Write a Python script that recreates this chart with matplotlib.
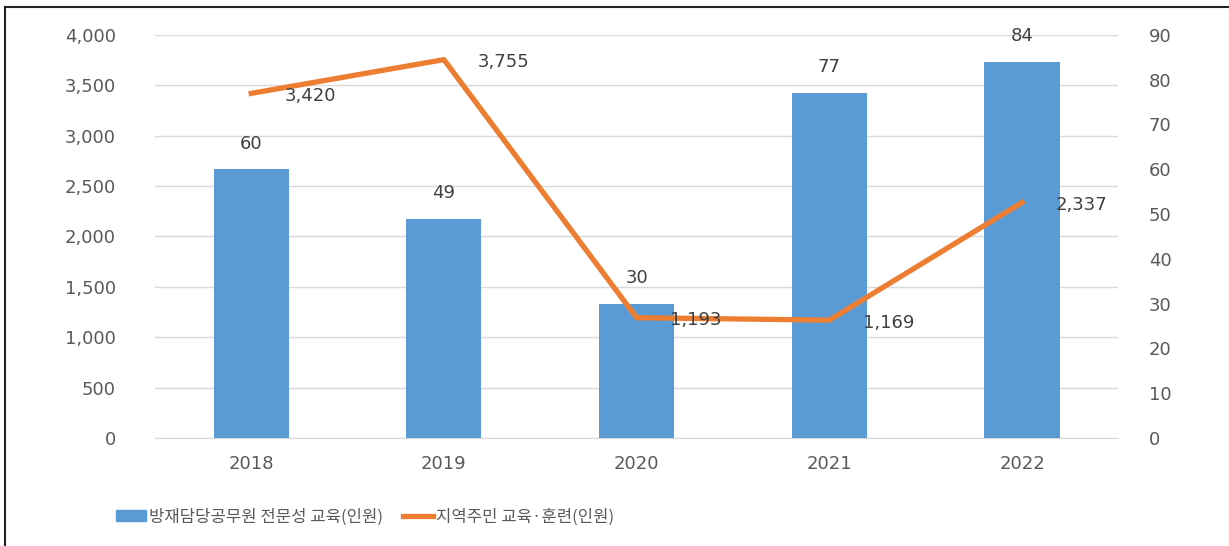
import matplotlib.pyplot as plt
from matplotlib.lines import Line2D

plt.rcParams['font.family'] = ['DejaVu Sans', 'Noto Sans CJK KR']

years = ['2018', '2019', '2020', '2021', '2022']
officials = [60, 49, 30, 77, 84]            # 방재담당공무원 전문성 교육 (right axis)
residents = [3420, 3755, 1193, 1169, 2337]  # 지역주민 교육·훈련 (left axis)

bar_label = '방재담당공무원 전문성 교육(인원)'
line_label = '지역주민 교육·훈련(인원)'

blue = '#5B9BD5'
orange = '#ED7D31'
grey = '#595959'

fig = plt.figure(figsize=(12.29, 5.46), dpi=100)
ax = fig.add_axes([0.126, 0.198, 0.784, 0.738])

# base axis: left scale + gridlines
ax.set_ylim(0, 4000)
ax.set_yticks(range(0, 4001, 500))
ax.set_yticklabels([f'{v:,}' for v in range(0, 4001, 500)])
ax.grid(axis='y', color='#D9D9D9', linewidth=1)
ax.set_axisbelow(True)
x = list(range(len(years)))
ax.set_xlim(-0.5, len(years) - 0.5)
ax.set_xticks(x)
ax.set_xticklabels(years)

# bars on the right scale
axb = ax.twinx()
axb.bar(x, officials, width=0.39, color=blue, zorder=2)
axb.set_ylim(0, 90)
axb.set_yticks(range(0, 91, 10))
for xi, v in zip(x, officials):
    axb.annotate(str(v), (xi, v), xytext=(0, 12), textcoords='offset points',
                 ha='center', va='bottom', fontsize=13, color='#404040')

# line on the left scale, drawn on top
axl = ax.twinx()
axl.set_ylim(0, 4000)
axl.set_yticks([])
axl.plot(x, residents, color=orange, linewidth=3.8, zorder=3)
axl.set_xlim(-0.5, len(years) - 0.5)
for xi, v in zip(x, residents):
    axl.annotate(f'{v:,}', (xi, v), xytext=(24, -2), textcoords='offset points',
                 ha='left', va='center', fontsize=13, color='#404040', zorder=4)

for a in (ax, axb, axl):
    for s in a.spines.values():
        s.set_visible(False)
    a.tick_params(length=0, labelsize=13, colors=grey)
ax.spines['bottom'].set_visible(True)
ax.spines['bottom'].set_color('#D9D9D9')
ax.tick_params(axis='x', pad=12)
ax.tick_params(axis='y', pad=28)
axb.tick_params(axis='y', pad=22)

handles = [plt.Rectangle((0, 0), 1, 1, color=blue),
           Line2D([0], [0], color=orange, linewidth=3.8)]
fig.legend(handles, [bar_label, line_label], loc='center', ncol=2,
           bbox_to_anchor=(0.297, 0.053), frameon=False,
           prop={'family': ['Noto Sans CJK KR'], 'size': 12},
           labelcolor=grey, handlelength=1.8, handleheight=0.6,
           handletextpad=0.2, columnspacing=1.2)

# outer frame (left and top edges visible)
fig.add_artist(Line2D([5 / 1229, 5 / 1229], [0, 1 - 7 / 546],
                      transform=fig.transFigure, color='#222222', linewidth=1.5))
fig.add_artist(Line2D([5 / 1229, 1], [1 - 7 / 546, 1 - 7 / 546],
                      transform=fig.transFigure, color='#222222', linewidth=1.5))

fig.savefig('out.png', dpi=100)
